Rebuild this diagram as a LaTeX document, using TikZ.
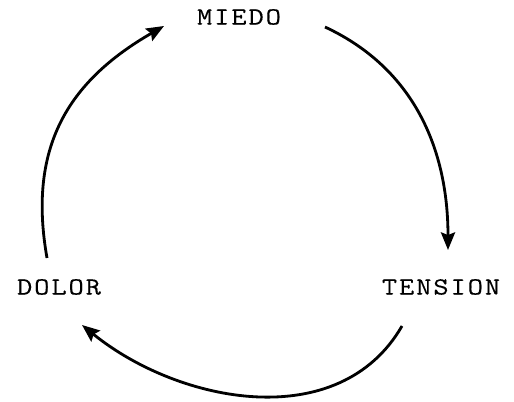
\documentclass[tikz,border=0pt]{standalone}
\usepackage{fontspec}
\newfontfamily\lblfont{Latin Modern Mono}[FakeStretch=1.2,LetterSpace=8,FakeBold=0.3]
\usetikzlibrary{arrows.meta}

\begin{document}
\begin{tikzpicture}[x=0.02cm,y=0.02cm,
  lbl/.style={font=\lblfont\fontsize{14}{16}\selectfont, inner sep=0pt},
  cyc/.style={line width=1.6pt, -{Stealth[length=10pt,width=8pt,inset=1.5pt]}}]
 \useasboundingbox (0,0) rectangle (514,402);
 \node[lbl] (mi) at (239,385) {MIEDO};
 \node[lbl] (te) at (441,115) {TENSION};
 \node[lbl] (do) at (59,115) {DOLOR};
 \coordinate (a) at (47,144);
 \coordinate (b) at (164,376);
 \coordinate (c) at (325,375);
 \coordinate (d) at (448,152);
 \coordinate (e) at (402,76);
 \coordinate (f) at (82,77);
 \draw[cyc] (a) to[out=100,in=210,looseness=1.1] (b);
 \draw[cyc] (c) to[out=-25,in=90] (d);
 \draw[cyc] (e) to[out=-120,in=-39] (f);
\end{tikzpicture}
\end{document}
